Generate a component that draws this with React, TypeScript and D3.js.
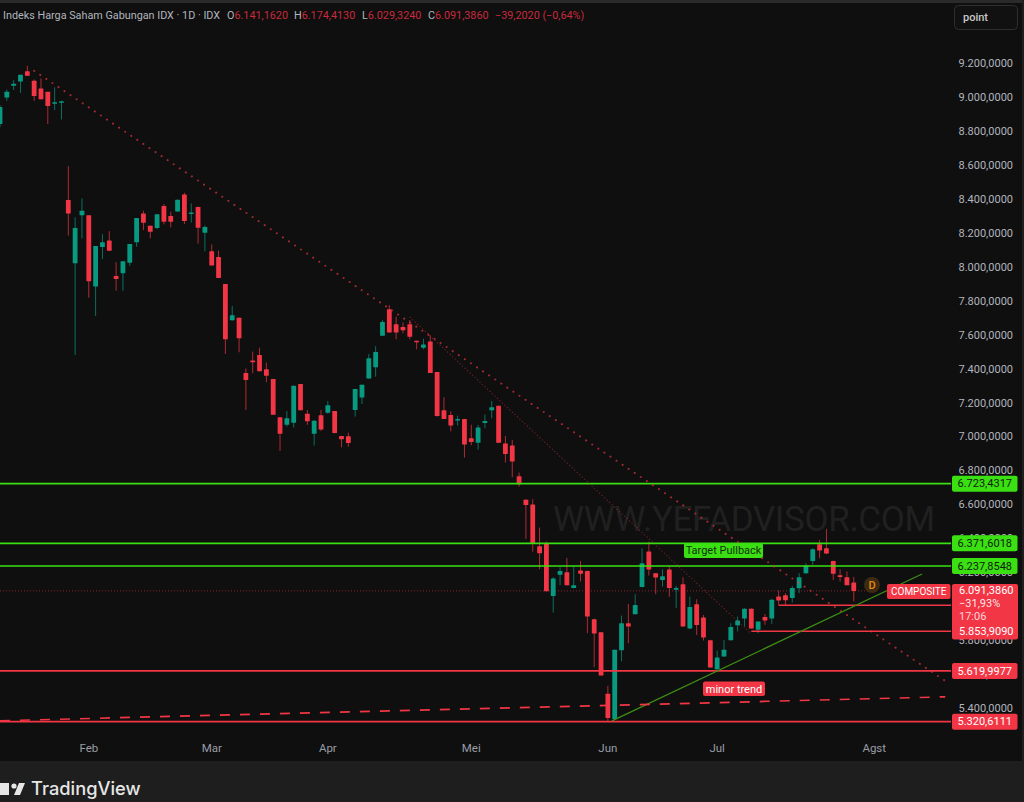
import React, { useEffect, useRef } from 'react';
import * as d3 from 'd3';

// OHLC of the daily bars
const opens = [8843, 9000, 9069, 9094, 9155, 9098, 9053, 9033, 8963, 8968, 8395, 8022, 8305, 8305, 7885, 8118, 8156, 7947, 7963, 8026, 8146, 8316, 8244, 8230, 8360, 8301, 8328, 8428, 8316, 8354, 8203, 8093, 8059, 7900, 7686, 7702, 7376, 7449, 7482, 7398, 7341, 7115, 7070, 7083, 7311, 7136, 7018, 7126, 7142, 7152, 7005, 7003, 7158, 7231, 7344, 7409, 7596, 7751, 7663, 7647, 7663, 7566, 7525, 7562, 7382, 7156, 7128, 7097, 7105, 6991, 6965, 7081, 7156, 7183, 6960, 6948, 6767, 6628, 6600, 6355, 6369, 6062, 6186, 6202, 6109, 6211, 6208, 5925, 5848, 5485, 5336, 5742, 5901, 5954, 6115, 6323, 6196, 6156, 6217, 6098, 6131, 5870, 6013, 5935, 5801, 5630, 5705, 5801, 5889, 5929, 5986, 5862, 5938, 5929, 6058, 6066, 6050, 6107, 6196, 6268, 6367, 6343, 6268, 6184, 6172, 6141.16];
const highs = [8955, 9047, 9102, 9133, 9186, 9106, 9112, 9033, 9059, 8980, 8595, 8293, 8405, 8305, 8124, 8193, 8212, 8028, 8034, 8136, 8289, 8332, 8244, 8311, 8372, 8326, 8397, 8438, 8375, 8356, 8246, 8134, 8097, 7900, 7771, 7702, 7403, 7502, 7525, 7437, 7341, 7117, 7152, 7301, 7311, 7158, 7099, 7158, 7211, 7152, 7005, 7024, 7282, 7307, 7488, 7533, 7688, 7776, 7708, 7674, 7688, 7566, 7578, 7596, 7382, 7233, 7150, 7124, 7105, 7071, 7070, 7132, 7211, 7183, 7005, 6981, 6789, 6632, 6632, 6465, 6382, 6172, 6231, 6286, 6235, 6268, 6211, 5927, 5848, 5532, 5744, 5946, 6015, 6072, 6343, 6382, 6196, 6219, 6235, 6121, 6172, 6058, 6042, 5950, 5803, 5740, 5803, 5901, 5940, 5989, 5989, 5911, 5956, 6043, 6094, 6078, 6121, 6196, 6255, 6343, 6392, 6457, 6270, 6219, 6206, 6174.41];
const lows = [8825, 8980, 9043, 9027, 9126, 8980, 8988, 8843, 8925, 8870, 8185, 7482, 8169, 7820, 7712, 8047, 8095, 7861, 7861, 8008, 8120, 8218, 8169, 8224, 8252, 8234, 8326, 8254, 8262, 8138, 8093, 8010, 7936, 7488, 7684, 7498, 7158, 7374, 7384, 7321, 7130, 6916, 7060, 7054, 7156, 7070, 6948, 7034, 7136, 7020, 6938, 6942, 7119, 7193, 7343, 7354, 7594, 7615, 7574, 7610, 7574, 7515, 7515, 7376, 7119, 7105, 7032, 7066, 6877, 6950, 6924, 7050, 7109, 6965, 6848, 6761, 6706, 6398, 6323, 6219, 6088, 5964, 6125, 6123, 6107, 6147, 5842, 5642, 5593, 5322, 5336, 5677, 5783, 5954, 6113, 6182, 6072, 6117, 6056, 5990, 5882, 5866, 5832, 5799, 5638, 5626, 5703, 5799, 5852, 5882, 5870, 5842, 5891, 5897, 6009, 6009, 6023, 6078, 6192, 6245, 6284, 6308, 6156, 6147, 6125, 6029.32];
const closes = [8943, 9033, 9080, 9133, 9128, 9008, 8990, 8949, 8972, 8978, 8316, 8230, 8332, 7916, 8124, 8146, 8097, 7930, 8034, 8136, 8289, 8262, 8208, 8311, 8267, 8267, 8397, 8271, 8322, 8232, 8236, 8010, 7936, 7574, 7716, 7580, 7335, 7439, 7386, 7360, 7130, 7018, 7109, 7301, 7156, 7091, 7095, 7042, 7185, 7022, 6985, 6963, 7282, 7307, 7462, 7500, 7676, 7615, 7615, 7627, 7590, 7557, 7543, 7376, 7123, 7105, 7066, 7105, 6954, 6969, 7054, 7093, 7174, 6965, 6899, 6854, 6720, 6598, 6369, 6314, 6090, 6164, 6208, 6125, 6125, 6192, 5940, 5840, 5593, 5342, 5744, 5901, 5882, 6009, 6255, 6217, 6170, 6178, 6109, 6109, 5882, 5997, 5891, 5817, 5640, 5699, 5744, 5878, 5917, 5986, 5870, 5911, 5917, 6039, 6035, 6037, 6109, 6172, 6239, 6337, 6329, 6312, 6192, 6174, 6125, 6091.39];

const priceTicks = [5400, 5600, 5800, 6000, 6200, 6400, 6600, 6800, 7000, 7200, 7400, 7600, 7800, 8000, 8200, 8400, 8600, 8800, 9000, 9200];
const monthLabels = ['Feb', 'Mar', 'Apr', 'Mei', 'Jun', 'Jul', 'Agst'];
const monthBars = [13, 31, 48, 69, 89, 105, 128];

// horizontal levels: [price, first bar]
const greenLevels = [6723.4317, 6371.6018, 6237.8548];
const redLevels = [5619.9977, 5320.6111];
const shortRedLevels = [[6007, 114], [5853.909, 110]];

// trend lines: bar index, price
const mainDownTrend = [[5, 9157], [138.4, 5561]];
const fineDownTrend = [[60, 7706], [110, 5838]];
const greenTrend = [[89.6, 5325], [135, 6191]];
const dashedTrend = [[0, 5326], [138.4, 5467]];

const lastClose = 6091.386;

const RED = '#f23645';
const GREEN = '#089981';
const LIME = '#3ae012';
const FONT = 'Roboto, sans-serif';

const App: React.FC = () => {
  const svgRef = useRef<SVGSVGElement>(null);

  useEffect(() => {
    if (!svgRef.current) return;
    document.body.style.margin = '0';

    const svg = d3.select(svgRef.current);
    svg.selectAll('*').remove();

    const paneRight = 951;
    const x = d3.scaleLinear().domain([0, 100]).range([0, 683]);
    const y = d3.scaleLinear().domain([5400, 9200]).range([708.2, 63.5]);
    const fmt = d3.formatLocale({ decimal: ',', thousands: '.', grouping: [3], currency: ['', ''] }).format(',.4f');

    // Background and footer
    svg.append('rect').attr('width', 1024).attr('height', 802).attr('fill', '#0f0f0f');
    svg.append('rect').attr('width', 1024).attr('height', 3).attr('fill', '#2a2a2a');
    svg.append('rect').attr('y', 761).attr('width', 1024).attr('height', 41).attr('fill', '#1e1e1e');
    svg.append('rect').attr('x', 1022).attr('width', 2).attr('height', 761).attr('fill', '#1e1e1e');

    const defs = svg.append('defs');
    defs.append('clipPath').attr('id', 'pane')
      .append('rect').attr('width', paneRight).attr('height', 760);

    const pane = svg.append('g').attr('clip-path', 'url(#pane)');

    // Watermark
    pane.append('text')
      .attr('x', 553).attr('y', 531)
      .attr('textLength', 382)
      .attr('font-family', FONT)
      .attr('font-size', 35)
      .attr('fill', '#202020')
      .text('WWW.YEFADVISOR.COM');

    // Last price line
    pane.append('line')
      .attr('x1', 0).attr('x2', x(127.5))
      .attr('y1', y(lastClose)).attr('y2', y(lastClose))
      .attr('stroke', RED).attr('stroke-opacity', 0.55)
      .attr('stroke-dasharray', '1 2');

    // Candles
    const bars = pane.append('g').selectAll('g')
      .data(d3.range(opens.length))
      .enter()
      .append('g')
      .attr('fill', i => (closes[i] >= opens[i] ? GREEN : RED))
      .attr('stroke', i => (closes[i] >= opens[i] ? GREEN : RED));

    bars.append('line')
      .attr('x1', i => x(i)).attr('x2', i => x(i))
      .attr('y1', i => y(highs[i])).attr('y2', i => y(lows[i]))
      .attr('stroke-width', 1)
      .attr('stroke-opacity', 0.7);

    bars.append('rect')
      .attr('x', i => x(i) - 2.4)
      .attr('width', 4.8)
      .attr('y', i => y(Math.max(opens[i], closes[i])))
      .attr('height', i => Math.max(1.5, Math.abs(y(opens[i]) - y(closes[i]))))
      .attr('rx', 0.5)
      .attr('stroke', 'none');

    // Levels
    const level = (price: number, color: string, x1: number) => {
      pane.append('line')
        .attr('x1', x1).attr('x2', paneRight)
        .attr('y1', y(price)).attr('y2', y(price))
        .attr('stroke', color).attr('stroke-width', 1.6);
    };
    greenLevels.forEach(p => level(p, LIME, 0));
    redLevels.forEach(p => level(p, RED, 0));
    shortRedLevels.forEach(([p, bar]) => level(p, RED, x(bar)));

    // Trend lines
    const trend = d3.line<number[]>().x(d => x(d[0])).y(d => y(d[1]));
    pane.append('path').attr('d', trend(mainDownTrend)).attr('fill', 'none')
      .attr('stroke', RED).attr('stroke-opacity', 0.65).attr('stroke-width', 2)
      .attr('stroke-linecap', 'round').attr('stroke-dasharray', '0.1 7.2');
    pane.append('path').attr('d', trend(fineDownTrend)).attr('fill', 'none')
      .attr('stroke', RED).attr('stroke-opacity', 0.45).attr('stroke-width', 1.1)
      .attr('stroke-dasharray', '1.2 2.2');
    pane.append('path').attr('d', trend(greenTrend)).attr('fill', 'none')
      .attr('stroke', '#3d8f14').attr('stroke-width', 1.3);
    pane.append('path').attr('d', trend(dashedTrend)).attr('fill', 'none')
      .attr('stroke', RED).attr('stroke-width', 1.7).attr('stroke-dasharray', '10 10');

    // Text boxes on the chart
    const box = (g: d3.Selection<any, unknown, null, undefined>, bx: number, by: number, w: number, h: number, fill: string, color: string, label: string, size = 11) => {
      g.append('rect').attr('x', bx).attr('y', by).attr('width', w).attr('height', h).attr('rx', 2).attr('fill', fill);
      g.append('text').attr('x', bx + w / 2).attr('y', by + h / 2 + 3.8).attr('text-anchor', 'middle')
        .attr('font-family', FONT).attr('font-size', size).attr('fill', color).text(label);
    };
    box(svg as any, 684, 543, 79, 15, LIME, '#17300c', 'Target Pullback', 11);
    box(svg as any, 703, 681.5, 62, 14.5, RED, '#ffffff', 'minor trend', 11);
    box(svg as any, 887, 584, 63.5, 15, RED, '#ffffff', 'COMPOSITE', 10);

    // Dividend marker
    svg.append('circle').attr('cx', 872).attr('cy', 585).attr('r', 8).attr('fill', '#3d2a12');
    svg.append('text').attr('x', 872).attr('y', 589).attr('text-anchor', 'middle')
      .attr('font-family', FONT).attr('font-size', 11).attr('font-weight', 500).attr('fill', '#e8890c').text('D');

    // Price axis
    const axisG = svg.append('g').attr('font-family', FONT).attr('font-size', 11).attr('fill', '#b2b5be');
    axisG.selectAll('text')
      .data(priceTicks)
      .enter()
      .append('text')
      .attr('x', 1013).attr('y', d => y(d) + 3.7)
      .attr('text-anchor', 'end')
      .text(d => fmt(d));

    // Month axis
    svg.append('g').selectAll('text')
      .data(monthLabels)
      .enter()
      .append('text')
      .attr('x', (_, i) => x(monthBars[i]))
      .attr('y', 752)
      .attr('text-anchor', 'middle')
      .attr('font-family', FONT).attr('font-size', 11.5).attr('fill', '#9a9da6')
      .text(d => d);

    // Price tags
    greenLevels.forEach(p => box(svg as any, 952, y(p) - 8, 65.5, 16, LIME, '#12210b', fmt(p), 11));
    redLevels.forEach(p => box(svg as any, 952, y(p) - 8, 65.5, 16, RED, '#ffffff', fmt(p), 11));

    svg.append('rect').attr('x', 952).attr('y', 584).attr('width', 66).attr('height', 55.5).attr('rx', 2).attr('fill', RED);
    const tag = svg.append('g').attr('font-family', FONT).attr('font-size', 11).attr('fill', '#ffffff');
    tag.append('text').attr('x', 959).attr('y', 594).text(fmt(lastClose));
    tag.append('text').attr('x', 959).attr('y', 607).attr('fill-opacity', 0.9).text('\u221231,93%');
    tag.append('text').attr('x', 959).attr('y', 620).attr('fill-opacity', 0.8).text('17:06');
    tag.append('text').attr('x', 959).attr('y', 635).text(fmt(5853.909));

    // Legend
    const legend = svg.append('text').attr('x', 3).attr('y', 19)
      .attr('font-family', FONT).attr('font-size', 10.8).attr('fill', '#b2b5be');
    const legendRed = '#c92a3c';
    legend.append('tspan').text('Indeks Harga Saham Gabungan IDX \u00b7 1D \u00b7 IDX');
    [['O', '6.141,1620', 227], ['H', '6.174,4130', 294], ['L', '6.029,3240', 362], ['C', '6.091,3860', 428]].forEach(([k, v, kx]) => {
      legend.append('tspan').attr('x', kx as number).text(k as string);
      legend.append('tspan').attr('fill', legendRed).text(v as string);
    });
    legend.append('tspan').attr('x', 495).attr('fill', legendRed).text('\u221239,2020 (\u22120,64%)');

    // Scale mode button
    svg.append('rect').attr('x', 954.5).attr('y', 5.5).attr('width', 63).attr('height', 24).attr('rx', 4)
      .attr('fill', '#111111').attr('stroke', '#2e2e2e');
    svg.append('text').attr('x', 963).attr('y', 21)
      .attr('font-family', FONT).attr('font-size', 11).attr('font-weight', 500).attr('fill', '#c8c8c8').text('point');

    // Footer logo
    const logo = svg.append('g').attr('fill', '#e6e6e6');
    logo.append('rect').attr('x', 0).attr('y', 783).attr('width', 9).attr('height', 12);
    logo.append('circle').attr('cx', 14).attr('cy', 786).attr('r', 2.6);
    logo.append('path').attr('d', d3.line()([[19, 783], [25, 783], [20, 795], [14, 795]]) + 'Z');
    svg.append('text').attr('x', 31).attr('y', 795)
      .attr('font-family', 'Inter, sans-serif').attr('font-size', 18.3).attr('font-weight', 500)
      .attr('fill', '#e6e6e6').text('TradingView');
  }, []);

  return (
    <svg
      ref={svgRef}
      width={1024}
      height={802}
      style={{ position: 'fixed', left: 0, top: 0, display: 'block' }}
    ></svg>
  );
};

export default App;
